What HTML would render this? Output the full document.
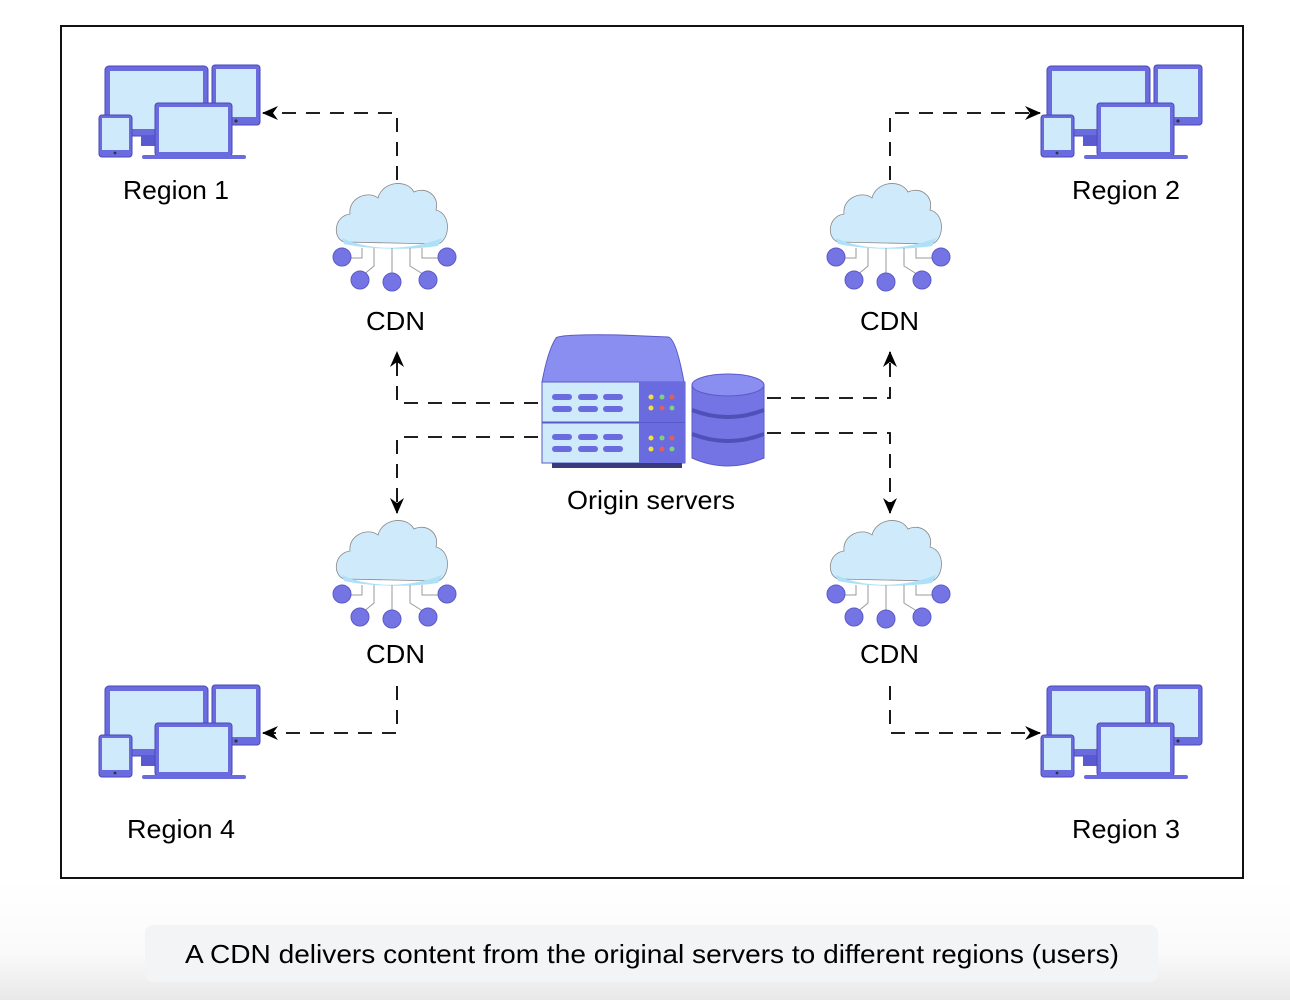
<!DOCTYPE html>
<html><head><meta charset="utf-8"><style>
html,body{margin:0;padding:0;background:#fff;width:1290px;height:1000px;overflow:hidden;font-family:"Liberation Sans",Arial,sans-serif}
</style></head><body>
<svg width="1290" height="1000" xmlns="http://www.w3.org/2000/svg" style="position:absolute;left:0;top:0">
<defs>
<linearGradient id="bg" x1="0" y1="0" x2="0" y2="1"><stop offset="0" stop-color="#fff"/><stop offset="0.6" stop-color="#fafafa"/><stop offset="1" stop-color="#e8e8e8"/></linearGradient>
<g id="dev">
  <rect x="6" y="1" width="103" height="70" rx="4" fill="#6b6be0" stroke="#4a4ab8" stroke-width="1"/>
  <rect x="11" y="6" width="93" height="58" fill="#cfeafa"/>
  <rect x="42" y="71" width="18" height="10" fill="#5a5ad0"/>
  <rect x="113" y="0" width="48" height="60" rx="3" fill="#6b6be0" stroke="#4a4ab8"/>
  <rect x="117" y="4" width="40" height="48" fill="#cfeafa"/>
  <circle cx="137" cy="56" r="1.6" fill="#333"/>
  <rect x="0" y="50" width="33" height="42" rx="3" fill="#6b6be0" stroke="#4a4ab8"/>
  <rect x="3" y="53" width="27" height="32" fill="#cfeafa"/>
  <circle cx="16" cy="88" r="1.4" fill="#333"/>
  <rect x="56" y="38" width="77" height="53" rx="3" fill="#6b6be0" stroke="#4a4ab8"/>
  <rect x="60" y="42" width="69" height="45" fill="#cfeafa"/>
  <rect x="43" y="90" width="104" height="4" rx="2" fill="#6b6be0"/>
</g>
<g id="cloud">
  <path d="M-48,62 C-60,58 -58,36 -42,34 C-44,18 -24,10 -14,18 C-10,2 14,-2 22,12 C34,6 48,16 44,30 C60,34 58,60 46,64 Z" fill="#cfeafa" stroke="#888" stroke-width="0.8"/>
  <path d="M-50,58 C-20,72 20,70 50,58 L46,66 C20,70 -20,70 -48,64Z" fill="#aee0f8"/>
  <g stroke="#999" stroke-width="1" fill="none">
    <path d="M-30,68 V78 H-48"/><path d="M-18,68 V86 L-30,96"/><path d="M0,68 V100"/>
    <path d="M18,68 V86 L34,96"/><path d="M30,68 V78 H52"/>
  </g>
  <g fill="#7474e4" stroke="#5a5ac8">
    <circle cx="-50" cy="77" r="9"/><circle cx="-32" cy="100" r="9"/><circle cx="0" cy="102" r="9"/>
    <circle cx="36" cy="100" r="9"/><circle cx="55" cy="77" r="9"/>
  </g>
</g>
<marker id="ah" viewBox="0 0 16 14" refX="15" refY="7" markerWidth="16" markerHeight="14" markerUnits="userSpaceOnUse" orient="auto">
  <path d="M0,0 L16,7 L0,14 L5,7Z" fill="#000"/>
</marker>
</defs>
<rect x="0" y="880" width="1290" height="120" fill="url(#bg)"/>
<rect x="61" y="26" width="1182" height="852" fill="#fff" stroke="#111" stroke-width="2"/>

<use href="#dev" x="99" y="65"/>
<use href="#dev" x="1041" y="65"/>
<use href="#dev" x="99" y="685"/>
<use href="#dev" x="1041" y="685"/>

<use href="#cloud" x="392" y="180"/>
<use href="#cloud" x="886" y="180"/>
<use href="#cloud" x="392" y="517"/>
<use href="#cloud" x="886" y="517"/>

<path d="M556,338 Q560,334 620,335 L668,337 Q676,338 684,382 L542,382 Q548,350 556,338Z" fill="#8a8ef0" stroke="#5a5ac8"/>
<rect x="542" y="382" width="143" height="40" fill="#cfeafa" stroke="#5a5ac8"/>
<rect x="639" y="382" width="46" height="40" fill="#6b6be0"/>
<rect x="542" y="423" width="143" height="40" fill="#cfeafa" stroke="#5a5ac8"/>
<rect x="639" y="423" width="46" height="40" fill="#6b6be0"/>
<rect x="552" y="463" width="130" height="5" fill="#3a3a7a"/>
<g fill="#6b6be0">
<rect x="552" y="394" width="20" height="6" rx="3"/><rect x="578" y="394" width="20" height="6" rx="3"/><rect x="603" y="394" width="20" height="6" rx="3"/>
<rect x="552" y="406" width="20" height="6" rx="3"/><rect x="578" y="406" width="20" height="6" rx="3"/><rect x="603" y="406" width="20" height="6" rx="3"/>
<rect x="552" y="434" width="20" height="6" rx="3"/><rect x="578" y="434" width="20" height="6" rx="3"/><rect x="603" y="434" width="20" height="6" rx="3"/>
<rect x="552" y="446" width="20" height="6" rx="3"/><rect x="578" y="446" width="20" height="6" rx="3"/><rect x="603" y="446" width="20" height="6" rx="3"/>
</g>
<g>
<circle cx="651" cy="397" r="2.5" fill="#f0e040"/><circle cx="662" cy="397" r="2.5" fill="#80d080"/><circle cx="672" cy="397" r="2.5" fill="#e06060"/>
<circle cx="651" cy="408" r="2.5" fill="#f0e040"/><circle cx="662" cy="408" r="2.5" fill="#e06060"/><circle cx="672" cy="408" r="2.5" fill="#80d080"/>
<circle cx="651" cy="438" r="2.5" fill="#f0e040"/><circle cx="662" cy="438" r="2.5" fill="#80d080"/><circle cx="672" cy="438" r="2.5" fill="#e06060"/>
<circle cx="651" cy="449" r="2.5" fill="#f0e040"/><circle cx="662" cy="449" r="2.5" fill="#e06060"/><circle cx="672" cy="449" r="2.5" fill="#80d080"/>
</g>
<path d="M692,385 L692,458 Q728,474 764,458 L764,385Z" fill="#7474e4" stroke="#5a5ac8"/>
<ellipse cx="728" cy="385" rx="36" ry="11" fill="#8a8ef0" stroke="#5a5ac8"/>
<path d="M692,410 Q728,424 764,410 M692,434 Q728,448 764,434" stroke="#5050b8" stroke-width="4" fill="none"/>

<g stroke="#000" stroke-width="1.8" fill="none" stroke-dasharray="14,10">
<path d="M397,180 V113 H263" marker-end="url(#ah)"/>
<path d="M890,180 V113 H1040" marker-end="url(#ah)"/>
<path d="M538,403 H397 V352" marker-end="url(#ah)"/>
<path d="M538,437 H397 V513" marker-end="url(#ah)"/>
<path d="M767,398 H890 V352" marker-end="url(#ah)"/>
<path d="M767,433 H890 V513" marker-end="url(#ah)"/>
<path d="M397,686 V733 H263" marker-end="url(#ah)"/>
<path d="M890,686 V733 H1040" marker-end="url(#ah)"/>
</g>

<g font-family="Liberation Sans, Arial, sans-serif" font-size="26" fill="#000">
<text x="123" y="199" textLength="106" lengthAdjust="spacingAndGlyphs">Region 1</text>
<text x="1072" y="199" textLength="108" lengthAdjust="spacingAndGlyphs">Region 2</text>
<text x="127" y="838" textLength="108" lengthAdjust="spacingAndGlyphs">Region 4</text>
<text x="1072" y="838" textLength="108" lengthAdjust="spacingAndGlyphs">Region 3</text>
<text x="366" y="330" textLength="59" lengthAdjust="spacingAndGlyphs">CDN</text>
<text x="860" y="330" textLength="59" lengthAdjust="spacingAndGlyphs">CDN</text>
<text x="366" y="663" textLength="59" lengthAdjust="spacingAndGlyphs">CDN</text>
<text x="860" y="663" textLength="59" lengthAdjust="spacingAndGlyphs">CDN</text>
<text x="567" y="509" textLength="168" lengthAdjust="spacingAndGlyphs">Origin servers</text>
</g>

<rect x="145" y="925" width="1013" height="57" rx="8" fill="#f3f4f6"/>
<text x="185" y="963" font-family="Liberation Sans, Arial, sans-serif" font-size="26" fill="#000" textLength="934" lengthAdjust="spacingAndGlyphs">A CDN delivers content from the original servers to different regions (users)</text>
</svg>
</body></html>
